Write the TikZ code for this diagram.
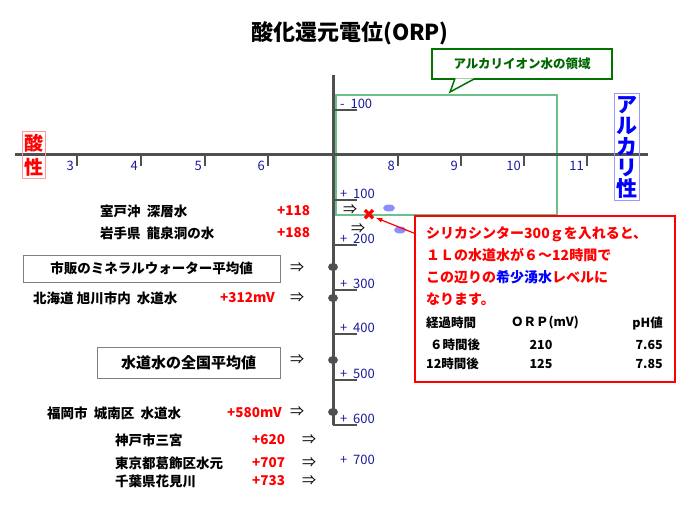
\documentclass[tikz,border=0pt]{standalone}
\usepackage{fontspec}
\setmainfont{Noto Sans CJK JP}
\newfontfamily\dvs{DejaVu Sans}
\usetikzlibrary{shapes.geometric}
\definecolor{axg}{HTML}{505050}
\definecolor{lblue}{HTML}{1a1a9a}
\definecolor{gbox}{HTML}{6cc08a}
\begin{document}
\begin{tikzpicture}[x=1pt,y=-1pt,
  ax/.style={draw=axg,line width=3pt},
  tk/.style={draw=axg,line width=2.5pt},
  num/.style={text=lblue,font=\fontsize{13}{14}\selectfont,inner sep=0pt},
  lbl/.style={font=\fontsize{13.5}{15}\selectfont\bfseries,inner sep=0pt,anchor=west},
  val/.style={font=\fontsize{13.5}{15}\selectfont\bfseries,text=red,inner sep=0pt,anchor=west},
  arr/.style={font=\fontsize{14}{15}\selectfont,inner sep=0pt},
  dotm/.style={ellipse,fill=axg,minimum width=10pt,minimum height=8pt,inner sep=0pt},
  bdot/.style={ellipse,fill=blue!45,minimum width=12pt,minimum height=7pt,inner sep=0pt},
  gbx/.style={draw=black!50,line width=0.8pt,inner sep=0pt},
  tb/.style={inner sep=0pt,font=\fontsize{12.5}{14}\selectfont\bfseries}]
\useasboundingbox (0,0) rectangle (700,505);
\node (title) at (350,33) {\fontsize{22}{24}\selectfont\bfseries 酸化還元電位(ORP)};
\draw[gbox,line width=2pt] (336,95) rectangle (557,215);
\node[draw=green!45!black,line width=1.5pt,fill=white,minimum width=180pt,minimum height=30pt,inner sep=0pt] (gcall) at (522,64) {\fontsize{12.5}{14}\selectfont\bfseries\color{green!40!black}アルカリイオン水の領域};
\coordinate (gtip) at (450,92);
\draw[green!45!black,line width=1.5pt,fill=white] (455,78.5) -- (gtip) -- (475,78.5);
\coordinate (ht0) at (15,154); \coordinate (ht1) at (648,154);
\coordinate (vt0) at (333,75); \coordinate (vt1) at (333,425);
\draw[ax] (ht0) -- (ht1);
\draw[ax] (vt0) -- (vt1);
\foreach \x/\n in {77/3,141/4,205/5,268/6,398/8,461/9,524/10,587/11}{
  \draw[tk] (\x,154) -- (\x,166);
  \node[num,anchor=east] (h\n) at (\x-3,166) {\n};
}
\foreach \y/\t in {110/{-\ \ 100},200/{+\ \ 100},245/{+\ \ 200},290/{+\ \ 300},334/{+\ \ 400},380/{+\ \ 500},425/{+\ \ 600}}{
  \draw[tk] (333,\y) -- (357,\y);
  \node[num,anchor=south west] at (340,\y-1) {\t};
}
\node[num,anchor=west] (p700) at (340,460) {+\ \ 700};
\foreach \y/\nm in {267/d1,298/d2,360/d3,412/d4}{ \node[dotm] (\nm) at (333,\y) {}; }
\node[draw=red!40,line width=1pt,text=red,inner sep=2pt,align=center,font=\fontsize{19}{24}\selectfont\bfseries] (acid) at (34,155) {酸\\性};
\node[draw=blue!40,line width=1pt,text=blue,inner sep=2pt,align=center,font=\fontsize{21}{21}\selectfont\bfseries] (alk) at (627,147) {ア\\ル\\カ\\リ\\性};
\node[lbl] (m1) at (100,211) {室戸沖\ \ 深層水};
\node[val] (v1) at (277,211) {+118};
\node[arr] (a1) at (350,210) {⇒};
\node[lbl] (m2) at (100,233) {岩手県\ \ 龍泉洞の水};
\node[val] (v2) at (277,233) {+188};
\node[arr] (a2) at (358,229) {⇒};
\node[gbx,minimum width=257pt,minimum height=27pt] (b1) at (151.5,268.5) {\fontsize{13.5}{15}\selectfont\bfseries 市販のミネラルウォーター平均値};
\node[arr] (a3) at (297,268) {⇒};
\node[lbl] (m4) at (33,298) {北海道\ 旭川市内\ \ 水道水};
\node[val] (v4) at (220,298) {+312mV};
\node[arr] (a4) at (297,298) {⇒};
\node[gbx,minimum width=183pt,minimum height=31pt] (b2) at (188.5,362.5) {\fontsize{15}{16}\selectfont\bfseries 水道水の全国平均値};
\node[arr] (a5) at (297,360) {⇒};
\node[lbl] (m6) at (47,413) {福岡市\ \ 城南区\ \ 水道水};
\node[val] (v6) at (227,413) {+580mV};
\node[arr] (a6) at (297,412) {⇒};
\node[lbl] (m7) at (115,440) {神戸市三宮};
\node[val] (v7) at (252,440) {+620};
\node[arr] (a7) at (309,440) {⇒};
\node[lbl] (m8) at (115,463) {東京都葛飾区水元};
\node[val] (v8) at (252,463) {+707};
\node[arr] (a8) at (309,463) {⇒};
\node[lbl] (m9) at (115,481) {千葉県花見川};
\node[val] (v9) at (252,481) {+733};
\node[arr] (a9) at (309,481) {⇒};
\node[bdot] (bb1) at (389,208) {};
\node[bdot] (bb2) at (400,230) {};
\node[text=red,font=\dvs\fontsize{16}{16}\selectfont\bfseries,inner sep=0pt] (xm) at (369,215) {✖};
\node[draw=red,line width=1.5pt,fill=white,minimum width=260pt,minimum height=166pt,inner sep=0pt] (rbox) at (545,299) {};
\draw[red,line width=1.2pt,-latex] (rbox.north west) ++(0,18) coordinate (rs) -- (xm);
\node[anchor=north west,inner sep=0pt,align=left,text=red,font=\fontsize{14}{22}\selectfont\bfseries] (rt) at (426,226) {シリカシンター300ｇを入れると、\\１Ｌの水道水が６～12時間で\\この辺りの{\color{blue}希少湧水}レベルに\\なります。};
\node[tb,anchor=west] (t1) at (426,323) {経過時間};
\node[tb,anchor=west] (t2) at (511,323) {ＯＲＰ(mV)};
\node[tb,anchor=east] (t3) at (663,323) {pH値};
\node[tb,anchor=west] (r1a) at (430,345) {６時間後};
\node[tb] (r1b) at (541,345) {210};
\node[tb,anchor=east] (r1c) at (663,345) {7.65};
\node[tb,anchor=west] (r2a) at (426,364) {12時間後};
\node[tb] (r2b) at (541,364) {125};
\node[tb,anchor=east] (r2c) at (663,364) {7.85};
\end{tikzpicture}
\end{document}
